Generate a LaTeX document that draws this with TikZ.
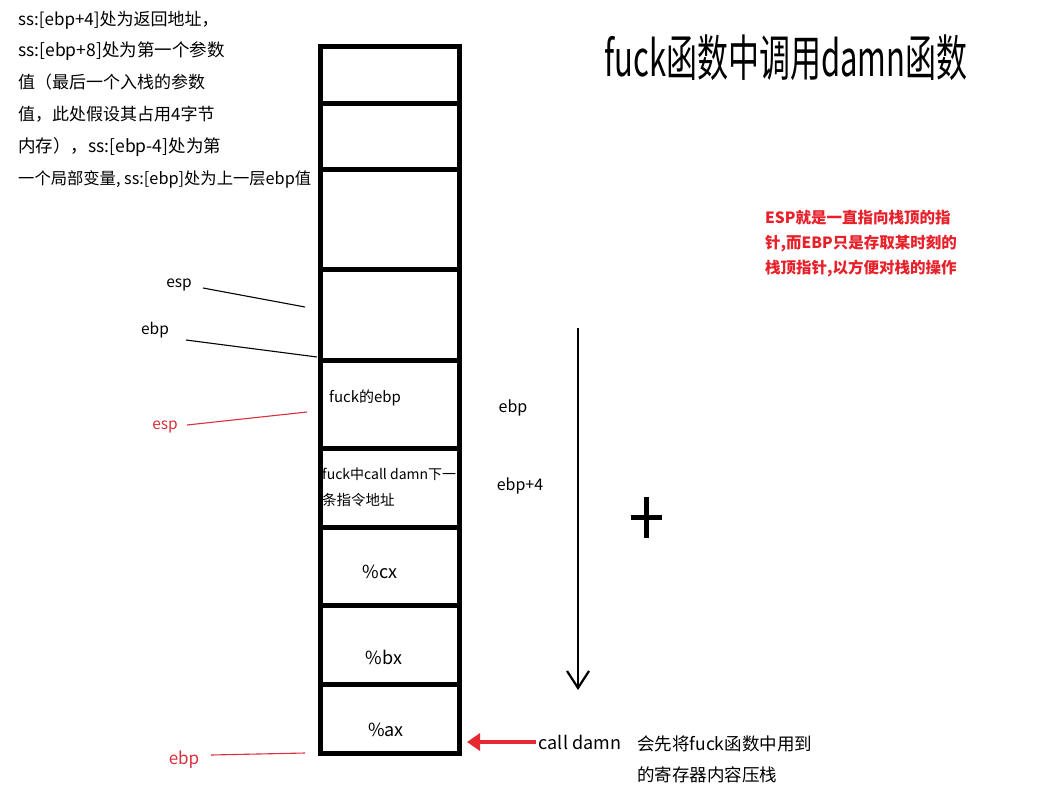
\documentclass[tikz,border=0pt]{standalone}
\usepackage{fontspec}
\setmainfont{Noto Sans CJK SC}
\usetikzlibrary{arrows.meta}
\definecolor{notered}{HTML}{E8202A}
\definecolor{lblred}{HTML}{D8303C}
\definecolor{arrred}{HTML}{E62830}
\tikzset{
  cell/.style={draw, line width=5pt, minimum width=139pt, inner sep=0pt, outer sep=0pt, anchor=north west},
  txt/.style={inner sep=0pt, anchor=base west, font=\fontsize{17}{20}\selectfont},
  celltxt/.style={inner sep=0pt, font=\fontsize{15}{18}\selectfont},
  ptr/.style={line width=1.1pt},
  ptrlbl/.style={inner sep=0pt, font=\fontsize{15.5}{18}\selectfont},
  note/.style={inner sep=0pt, anchor=base west, text=notered, font=\fontsize{15.5}{18}\selectfont\bfseries},
}
\begin{document}
\begin{tikzpicture}[x=1pt,y=-1pt]
\useasboundingbox (0,0) rectangle (1054,787);
\fill[white] (0,0) rectangle (1054,787);

% left explanation text
\node[txt] (t1) at (18,25) {ss:[ebp+4]处为返回地址，};
\node[txt, font=\fontsize{17.5}{20}\selectfont] (t2) at (18,56) {ss:[ebp+8]处为第一个参数};
\node[txt] (t3) at (18,88) {值（最后一个入栈的参数};
\node[txt] (t4) at (18,120) {值，此处假设其占用4字节};
\node[txt, font=\fontsize{17.5}{20}\selectfont] (t5) at (18,152) {内存），ss:[ebp-4]处为第};
\node[txt, font=\fontsize{16.3}{19}\selectfont] (t6) at (18,184) {一个局部变量, ss:[ebp]处为上一层ebp值};

% title
\node[inner sep=0pt, font=\fontsize{31}{34}\selectfont, yscale=1.6, transform shape] (title) at (786,58) {fuck函数中调用damn函数};

% red note
\node[note] (n1) at (765,223) {ESP就是一直指向栈顶的指};
\node[note] (n2) at (765,248) {针,而EBP只是存取某时刻的};
\node[note] (n3) at (765,273) {栈顶指针,以方便对栈的操作};

% stack cells
\node[cell, minimum height=57pt] (c1) at (320.5,46) {};
\node[cell, minimum height=66pt] (c2) at (320.5,103) {};
\node[cell, minimum height=100pt] (c3) at (320.5,169) {};
\node[cell, minimum height=91pt] (c4) at (320.5,269) {};
\node[cell, minimum height=88pt] (c5) at (320.5,360) {};
\node[cell, minimum height=79pt] (c6) at (320.5,448) {};
\node[cell, minimum height=78pt] (c7) at (320.5,527) {};
\node[cell, minimum height=79pt] (c8) at (320.5,605) {};
\node[cell, minimum height=69pt] (c9) at (320.5,684) {};

% cell texts
\node[celltxt, anchor=west] (l5) at (329,398) {fuck的ebp};
\node[celltxt, anchor=west, font=\fontsize{14}{17}\selectfont] (l6a) at (322,474) {fuck中call damn下一};
\node[celltxt, anchor=west, font=\fontsize{14.5}{17}\selectfont] (l6b) at (322,500) {条指令地址};
\node[celltxt, font=\fontsize{18}{21}\selectfont] (l7) at (380,572) {\%cx};
\node[celltxt, font=\fontsize{18}{21}\selectfont] (l8) at (384,657) {\%bx};
\node[celltxt, font=\fontsize{18}{21}\selectfont] (l9) at (386,730) {\%ax};

% right labels
\node[ptrlbl, font=\fontsize{16}{19}\selectfont] (rebp) at (513,408) {ebp};
\node[ptrlbl, font=\fontsize{16}{19}\selectfont] (rebp4) at (520,486) {ebp+4};

% left pointers
\node[ptrlbl] (esp1) at (179,285) {esp};
\coordinate (esp1e) at (305,307);
\draw[ptr] (203,288) -- (esp1e);
\node[ptrlbl] (ebp1) at (155,330) {ebp};
\coordinate (ebp1e) at (317,357);
\draw[ptr] (186,340) -- (ebp1e);
\node[ptrlbl, text=lblred] (esp2) at (165,427) {esp};
\coordinate (esp2e) at (307,412);
\draw[ptr, draw=lblred] (187,425) -- (esp2e);
\node[ptrlbl, text=lblred, font=\fontsize{17}{20}\selectfont] (ebp2) at (184,760) {ebp};
\coordinate (ebp2e) at (305,753);
\draw[ptr, draw=lblred] (211,755) -- (ebp2e);

% growth arrow
\coordinate (dtop) at (578,328);
\coordinate (dbot) at (578,690);
\draw[line width=1.3pt, -{Straight Barb[length=17pt,width=22pt,line width=2.2pt]}] (dtop) -- (dbot);

% plus sign
\coordinate (plus) at (646,517);
\draw[line width=5pt] ([xshift=-15.5pt]plus) -- ([xshift=15.5pt]plus);
\draw[line width=5pt] ([yshift=-20.5pt]plus) -- ([yshift=20.5pt]plus);

% call damn
\node[inner sep=0pt, font=\fontsize{18}{21}\selectfont] (call) at (580,742) {call damn};
\draw[arrred, line width=4pt, -{Triangle[length=13pt,width=17pt]}, shorten <=3pt, shorten >=7.5pt] (call.west) -- (c9.east |- call.west);
\node[txt, font=\fontsize{17.5}{20}\selectfont] (exp1) at (637,750) {会先将fuck函数中用到};
\node[txt, font=\fontsize{17.5}{20}\selectfont] (exp2) at (637,781) {的寄存器内容压栈};
\end{tikzpicture}
\end{document}
